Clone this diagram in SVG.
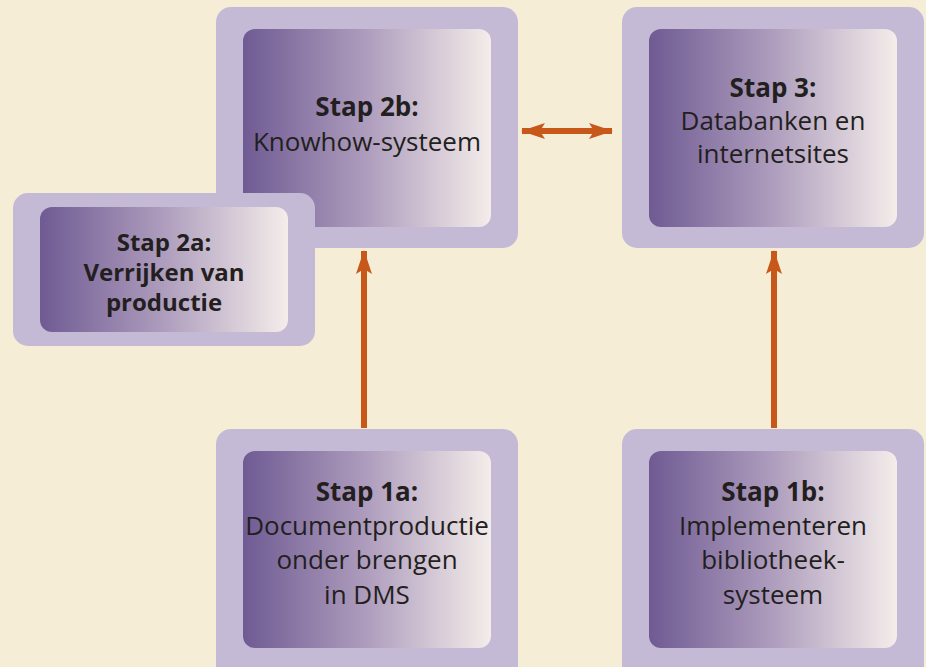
<svg xmlns="http://www.w3.org/2000/svg" width="926" height="667" viewBox="0 0 926 667">
<defs>
<linearGradient id="g" x1="0" y1="0" x2="1" y2="0">
<stop offset="0" stop-color="#6F5B93"/>
<stop offset="0.5" stop-color="#AE9DBD"/>
<stop offset="1" stop-color="#F4EDEA"/>
</linearGradient>
<marker id="ah" viewBox="0 0 24 16" refX="23" refY="8" markerWidth="24" markerHeight="16" markerUnits="userSpaceOnUse" orient="auto-start-reverse">
<path d="M0,0 L24,8 L0,16 L5,8 Z" fill="#C8581A"/>
</marker>
</defs>
<style>
.outer{fill:#C4BAD6}
.inner{fill:url(#g)}
.t{font-family:"Open Sans","Noto Sans",sans-serif;font-size:26px;fill:#231F20;text-anchor:middle}
.b{font-weight:bold;font-size:26px}
.s{font-size:24px}
.c{stroke:#C8581A;stroke-width:6;fill:none}
</style>
<rect width="926" height="667" fill="#F5EDD6"/>
<g id="connectors">
<line class="c" x1="522" y1="131" x2="612" y2="131" marker-start="url(#ah)" marker-end="url(#ah)"/>
<line class="c" x1="364" y1="428" x2="364" y2="251" marker-end="url(#ah)"/>
<line class="c" x1="774" y1="428" x2="774" y2="251" marker-end="url(#ah)"/>
</g>
<g id="stap2b">
<rect class="outer" x="216" y="7" width="302" height="241" rx="15"/>
<rect class="inner" x="243" y="29" width="248" height="198" rx="12"/>
<text class="t b" x="367" y="116">Stap 2b:</text>
<text class="t" x="367" y="151">Knowhow-systeem</text>
</g>
<g id="stap2a">
<rect class="outer" x="13" y="193" width="302" height="153" rx="15"/>
<rect class="inner" x="40" y="207" width="248" height="125" rx="12"/>
<text class="t b s" x="164" y="251">Stap 2a:</text>
<text class="t b s" x="164" y="281">Verrijken van</text>
<text class="t b s" x="164" y="311">productie</text>
</g>
<g id="stap3">
<rect class="outer" x="622" y="7" width="302" height="241" rx="15"/>
<rect class="inner" x="649" y="29" width="248" height="198" rx="12"/>
<text class="t b" x="773" y="97">Stap 3:</text>
<text class="t" x="773" y="130">Databanken en</text>
<text class="t" x="773" y="163">internetsites</text>
</g>
<g id="stap1a">
<rect class="outer" x="216" y="429" width="302" height="255" rx="15"/>
<rect class="inner" x="243" y="451" width="248" height="197" rx="12"/>
<text class="t b" x="367" y="501">Stap 1a:</text>
<text class="t" x="367" y="535">Documentproductie</text>
<text class="t" x="367" y="569">onder brengen</text>
<text class="t" x="367" y="604">in DMS</text>
</g>
<g id="stap1b">
<rect class="outer" x="622" y="429" width="302" height="255" rx="15"/>
<rect class="inner" x="649" y="451" width="248" height="197" rx="12"/>
<text class="t b" x="773" y="501">Stap 1b:</text>
<text class="t" x="773" y="535">Implementeren</text>
<text class="t" x="773" y="569">bibliotheek-</text>
<text class="t" x="773" y="604">systeem</text>
</g>
</svg>
